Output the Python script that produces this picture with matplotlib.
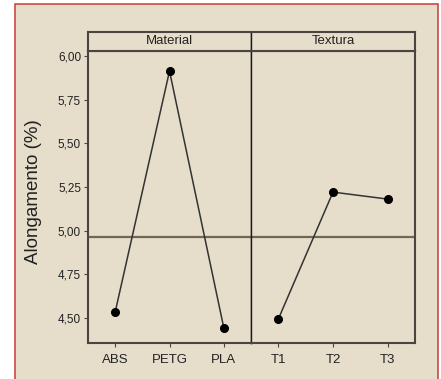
import matplotlib.pyplot as plt
from matplotlib.patches import Rectangle

plt.rcParams['font.family'] = ['Liberation Sans', 'DejaVu Sans']

material_labels = ["ABS", "PETG", "PLA"]
material_values = [4.534, 5.914, 4.443]
textura_labels = ["T1", "T2", "T3"]
textura_values = [4.494, 5.221, 5.181]
grand_mean = 4.964

bg = "#e6ddcb"
frame = "#4a4540"
txt = "#222222"

fig = plt.figure(figsize=(4.41, 3.79), dpi=100, facecolor="white")
# beige panel with red border, behind the axes
fig.patches.append(Rectangle((15 / 441, -0.01), (438 - 15) / 441, 1 - 4 / 379 + 0.01,
                             transform=fig.transFigure, facecolor=bg,
                             edgecolor="#d04848", linewidth=1.2, zorder=-5))

left, mid, right = 88 / 441, 251 / 441, 415 / 441
bottom, top, strip_top = 1 - 343 / 379, 1 - 51 / 379, 1 - 32 / 379

ymin, ymax = 4.357, 6.029
panels = [(material_labels, material_values, "Material", left, mid),
          (textura_labels, textura_values, "Textura", mid, right)]

for i, (labels, vals, title, x0, x1) in enumerate(panels):
    ax = fig.add_axes([x0, bottom, x1 - x0, top - bottom])
    ax.set_facecolor(bg)
    xs = list(range(len(labels)))
    ax.plot(xs, vals, color="#333333", lw=1.1, marker="o", ms=5.5,
            mfc="black", mec="black", zorder=3)
    ax.axhline(grand_mean, color="#716658", lw=1.6, zorder=2)
    ax.set_xlim(-0.5, 2.5)
    ax.set_ylim(ymin, ymax)
    ax.set_xticks(xs)
    ax.set_xticklabels(labels, fontsize=9.5, color=txt)
    ax.tick_params(axis="x", length=3, color=frame, pad=5)
    if i == 0:
        ax.set_yticks([4.50, 4.75, 5.00, 5.25, 5.50, 5.75, 6.00])
        ax.set_yticklabels(["4,50", "4,75", "5,00", "5,25", "5,50", "5,75", "6,00"])
        ax.tick_params(axis="y", length=3, color=frame, labelsize=8.5,
                       labelcolor=txt, pad=2)
        ax.set_ylabel("Alongamento (%)", fontsize=13.5, color=txt)
        ax.yaxis.set_label_coords(-0.282, 0.52)
    else:
        ax.set_yticks([])
    for s in ax.spines.values():
        s.set_color(frame)
        s.set_linewidth(1.5)
    # divider between the panels is thinner and darker
    inner = "right" if i == 0 else "left"
    ax.spines[inner].set_color("#1a1a1a")
    ax.spines[inner].set_linewidth(1.0)

    sax = fig.add_axes([x0, top, x1 - x0, strip_top - top])
    sax.set_facecolor(bg)
    sax.set_xticks([])
    sax.set_yticks([])
    for s in sax.spines.values():
        s.set_color(frame)
        s.set_linewidth(1.5)
    sax.spines[inner].set_color("#1a1a1a")
    sax.spines[inner].set_linewidth(1.0)
    sax.text(0.5, 0.5, title, ha="center", va="center", fontsize=9.5,
             color=txt, transform=sax.transAxes)

fig.savefig("out.png", dpi=100, facecolor="white")
